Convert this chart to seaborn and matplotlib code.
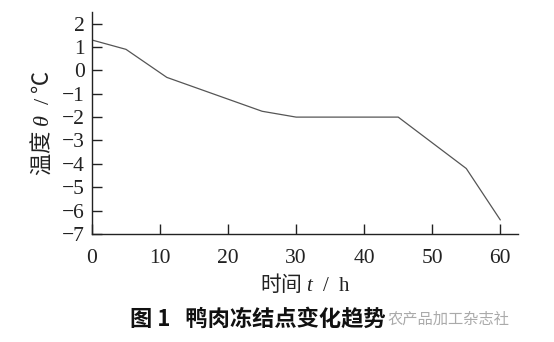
import pandas as pd
import seaborn as sns
import matplotlib.pyplot as plt

# data
time_h = [0, 5, 11, 25, 30, 45, 55, 60]
temp_c = [1.3, 0.9, -0.3, -1.75, -2.0, -2.0, -4.2, -6.4]
x_ticks = [0, 10, 20, 30, 40, 50, 60]
y_ticks = [2, 1, 0, -1, -2, -3, -4, -5, -6, -7]

df = pd.DataFrame({"time": time_h, "temp": temp_c})

sns.set_theme(style="ticks")
plt.rcParams["font.family"] = ["Liberation Serif", "Noto Sans CJK SC"]
plt.rcParams["mathtext.fontset"] = "custom"
plt.rcParams["mathtext.it"] = "Liberation Serif:italic"
plt.rcParams["mathtext.rm"] = "Liberation Serif"
plt.rcParams["axes.unicode_minus"] = True

fig = plt.figure(figsize=(5.54, 3.42), dpi=100)
ax = fig.add_axes([0.166, 0.316, 0.769, 0.649])

sns.lineplot(data=df, x="time", y="temp", ax=ax, color="#555555", linewidth=0.9)

ax.set_xlim(0, 62.6)
ax.set_ylim(-7, 2.5)
ax.set_xticks(x_ticks)
ax.set_yticks(y_ticks)
ax.tick_params(direction="in", length=7, width=1, labelsize=15.5, colors="#222222")
ax.tick_params(axis="x", pad=11)
ax.tick_params(axis="y", pad=5)
for s in ["top", "right"]:
    ax.spines[s].set_visible(False)
for s in ["left", "bottom"]:
    ax.spines[s].set_linewidth(1)
    ax.spines[s].set_color("#222222")

# CJK part as normal text, latin part through mathtext (serif)
ax.set_xlabel("时间 $t\\ \\ /\\ \\ \\mathrm{h}$", fontsize=15, color="#222222", labelpad=3,
              family=["Noto Sans CJK SC"])
ax.set_ylabel("温度 $\\theta\\ \\ /\\ $℃", fontsize=16, color="#222222", labelpad=6,
              family=["Noto Sans CJK SC"])

fig.text(0.466, 0.067, "图 1   鸭肉冻结点变化趋势", fontsize=16, fontweight="bold",
         family=["Noto Sans CJK SC"], ha="center", va="center", color="#111111")
fig.text(0.81, 0.067, "农产品加工杂志社", fontsize=11, family=["Noto Sans CJK SC"],
         ha="center", va="center", color="#aaaaaa")

fig.savefig("out.png", dpi=100)
